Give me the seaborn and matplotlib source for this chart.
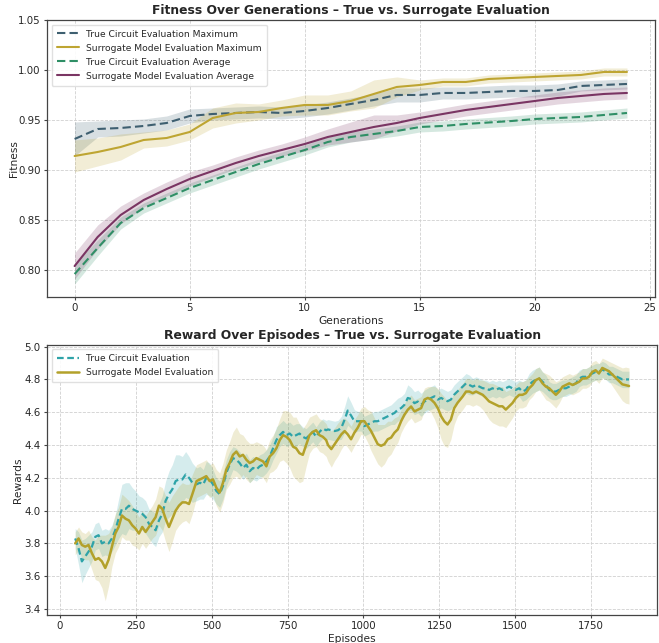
import numpy as np
import pandas as pd
import matplotlib
matplotlib.use("Agg")
import matplotlib.pyplot as plt
import seaborn as sns

# ---------------- Fitness over generations ----------------
generations = list(range(25))
true_max = [0.931, 0.941, 0.942, 0.944, 0.947, 0.954, 0.956, 0.957, 0.958, 0.957,
            0.959, 0.962, 0.966, 0.970, 0.975, 0.975, 0.977, 0.977, 0.978, 0.979,
            0.979, 0.980, 0.984, 0.985, 0.986]
true_max_hw = [0.017, 0.008, 0.008, 0.007, 0.007, 0.007, 0.006, 0.006, 0.006, 0.006,
               0.006, 0.006, 0.006, 0.006, 0.007, 0.007, 0.006, 0.006, 0.006, 0.006,
               0.006, 0.006, 0.005, 0.005, 0.005]
surr_max = [0.914, 0.918, 0.923, 0.930, 0.932, 0.938, 0.952, 0.957, 0.958, 0.962,
            0.965, 0.965, 0.969, 0.976, 0.983, 0.985, 0.988, 0.988, 0.991, 0.992,
            0.993, 0.994, 0.995, 0.998, 0.998]
surr_max_hw = [0.016, 0.014, 0.013, 0.008, 0.008, 0.008, 0.010, 0.010, 0.008, 0.008,
               0.010, 0.010, 0.010, 0.014, 0.010, 0.005, 0.004, 0.004, 0.004, 0.004,
               0.004, 0.004, 0.004, 0.004, 0.004]
true_avg = [0.796, 0.822, 0.847, 0.862, 0.872, 0.882, 0.890, 0.898, 0.906, 0.913,
            0.920, 0.928, 0.933, 0.936, 0.939, 0.943, 0.944, 0.946, 0.9475, 0.949,
            0.951, 0.952, 0.953, 0.955, 0.957]
true_avg_hw = [0.010, 0.008, 0.006, 0.005, 0.005, 0.005, 0.005, 0.005, 0.005, 0.005,
               0.005, 0.005, 0.005, 0.005, 0.005, 0.005, 0.005, 0.005, 0.005, 0.005,
               0.005, 0.005, 0.005, 0.005, 0.005]
surr_avg = [0.804, 0.833, 0.855, 0.870, 0.881, 0.891, 0.899, 0.907, 0.914, 0.920,
            0.926, 0.933, 0.938, 0.943, 0.947, 0.952, 0.956, 0.960, 0.963, 0.966,
            0.969, 0.972, 0.974, 0.976, 0.977]
surr_avg_hw = [0.013, 0.012, 0.009, 0.007, 0.007, 0.007, 0.006, 0.006, 0.006, 0.006,
               0.007, 0.008, 0.010, 0.012, 0.008, 0.006, 0.006, 0.006, 0.006, 0.006,
               0.006, 0.006, 0.006, 0.006, 0.006]

# ---------------- Reward over episodes ----------------
episodes = [50, 61, 72, 83, 94, 105, 116, 127, 138, 149, 160, 171, 182, 193, 204, 216,
            227, 238, 249, 260, 271, 282, 293, 304, 315, 326, 337, 348, 359, 370, 381,
            392, 403, 414, 425, 436,
            450, 461, 472, 482, 493, 504, 515, 526, 537, 548, 559, 570, 581, 592, 603,
            614, 625, 636, 647, 658, 669, 680, 691, 702, 713, 724, 735, 746, 757, 768,
            778, 789, 800, 811, 822, 833, 844, 855, 866, 877,
            883, 894, 905, 916, 927, 938, 948, 959, 970, 981, 992, 1003, 1014, 1025,
            1036, 1047, 1058, 1069, 1080, 1091, 1102, 1113, 1124, 1135, 1146, 1157,
            1168, 1179, 1190, 1201, 1212, 1223, 1234, 1245, 1256, 1266, 1277, 1288,
            1299, 1310,
            1327, 1338, 1349, 1360, 1371, 1382, 1393, 1404, 1414, 1425, 1436, 1447,
            1458, 1469, 1480, 1491, 1502, 1513, 1524, 1535, 1546, 1557, 1568, 1579,
            1590, 1601, 1612, 1623, 1634, 1645, 1656, 1667, 1678, 1689, 1700, 1711,
            1722, 1733, 1743, 1754, 1765, 1776,
            1787, 1798, 1809, 1820, 1831, 1842, 1853, 1864, 1875]
reward_true = [3.83, 3.77, 3.69, 3.72, 3.75, 3.78, 3.84, 3.85, 3.80, 3.81, 3.80, 3.83,
               3.88, 3.95, 4.01, 4.01, 4.03, 4.01, 4.00, 3.99, 3.98, 3.96, 3.92, 3.90,
               3.88, 3.94, 3.98, 4.06, 4.10, 4.13, 4.18, 4.19, 4.19, 4.22, 4.20, 4.17,
               4.16, 4.17, 4.16, 4.20, 4.19, 4.16, 4.12, 4.10, 4.15, 4.23, 4.28, 4.32,
               4.31, 4.29, 4.26, 4.28, 4.24, 4.26, 4.25, 4.27, 4.28, 4.30, 4.33, 4.38,
               4.43, 4.46, 4.48, 4.46, 4.47, 4.45, 4.46, 4.47, 4.45, 4.44, 4.46, 4.48,
               4.45, 4.48, 4.50, 4.49,
               4.495, 4.49, 4.485, 4.49, 4.505, 4.555, 4.61, 4.58, 4.545, 4.545, 4.545,
               4.515, 4.525, 4.535, 4.545, 4.545, 4.555, 4.565, 4.575, 4.585, 4.595,
               4.615, 4.625, 4.645, 4.687, 4.68, 4.655, 4.665, 4.645, 4.665, 4.677,
               4.687, 4.697, 4.677, 4.687, 4.677, 4.667, 4.677, 4.707, 4.727,
               4.756, 4.776, 4.766, 4.756, 4.766, 4.756, 4.746, 4.746, 4.736, 4.746,
               4.736, 4.746, 4.736, 4.746, 4.756, 4.746, 4.736, 4.746, 4.726, 4.736,
               4.766, 4.786, 4.796, 4.806, 4.786, 4.766, 4.736, 4.726, 4.726, 4.736,
               4.746, 4.746, 4.756, 4.766, 4.776, 4.806, 4.816, 4.816, 4.826, 4.836,
               4.846, 4.846,
               4.86, 4.85, 4.83, 4.83, 4.82, 4.81, 4.80, 4.80, 4.80]
reward_true_hw = [0.06, 0.10, 0.13, 0.11, 0.10, 0.09, 0.08, 0.08, 0.08, 0.08, 0.08, 0.08,
                  0.09, 0.12, 0.15, 0.16, 0.14, 0.13, 0.12, 0.10, 0.10, 0.10, 0.09, 0.10,
                  0.10, 0.10, 0.11, 0.12, 0.14, 0.15, 0.16, 0.15, 0.14, 0.14, 0.13, 0.12,
                  0.10, 0.10, 0.09, 0.10, 0.10, 0.09, 0.08, 0.08, 0.08, 0.08, 0.08, 0.07,
                  0.07, 0.07, 0.07, 0.07, 0.07, 0.07, 0.07, 0.07, 0.07, 0.07, 0.07, 0.07,
                  0.08, 0.07, 0.07, 0.07, 0.07, 0.07, 0.07, 0.06, 0.06, 0.06, 0.06, 0.06,
                  0.06, 0.06, 0.06, 0.06,
                  0.06, 0.06, 0.06, 0.06, 0.07, 0.08, 0.09, 0.08, 0.07, 0.06, 0.06,
                  0.06, 0.06, 0.06, 0.06, 0.06, 0.06, 0.06, 0.06, 0.06, 0.07,
                  0.07, 0.07, 0.07, 0.08, 0.07, 0.07, 0.07, 0.07, 0.07, 0.07,
                  0.07, 0.07, 0.06, 0.06, 0.06, 0.06, 0.06, 0.06, 0.06,
                  0.06, 0.06, 0.06, 0.05, 0.05, 0.05, 0.05, 0.05, 0.05, 0.05,
                  0.05, 0.05, 0.05, 0.05, 0.05, 0.05, 0.05, 0.05, 0.06, 0.06,
                  0.07, 0.07, 0.07, 0.07, 0.06, 0.06, 0.05, 0.05, 0.05, 0.05,
                  0.05, 0.05, 0.05, 0.05, 0.05, 0.05, 0.05, 0.05, 0.05, 0.05,
                  0.05, 0.05,
                  0.05, 0.05, 0.05, 0.05, 0.05, 0.05, 0.05, 0.05, 0.05]
reward_surr = [3.80, 3.83, 3.79, 3.78, 3.79, 3.74, 3.70, 3.71, 3.69, 3.65, 3.70, 3.78,
               3.86, 3.90, 3.97, 3.95, 3.94, 3.91, 3.89, 3.86, 3.90, 3.87, 3.90, 3.93,
               3.96, 4.03, 4.01, 3.95, 3.90, 3.95, 4.00, 4.03, 4.05, 4.05, 4.04, 4.10,
               4.18, 4.19, 4.20, 4.21, 4.18, 4.19, 4.14, 4.11, 4.17, 4.25, 4.29, 4.34,
               4.36, 4.33, 4.34, 4.31, 4.29, 4.30, 4.32, 4.31, 4.30, 4.27, 4.33, 4.35,
               4.38, 4.43, 4.46, 4.45, 4.43, 4.39, 4.38, 4.35, 4.34, 4.40, 4.46, 4.48,
               4.49, 4.46, 4.45, 4.43,
               4.40, 4.375, 4.405, 4.435, 4.465, 4.485, 4.465, 4.435, 4.475, 4.505,
               4.545, 4.545, 4.515, 4.485, 4.445, 4.405, 4.395, 4.405, 4.435, 4.445,
               4.475, 4.495, 4.545, 4.585, 4.615, 4.635, 4.605, 4.615, 4.625, 4.677,
               4.687, 4.677, 4.657, 4.625, 4.575, 4.545, 4.525, 4.555, 4.625, 4.657,
               4.696, 4.726, 4.726, 4.716, 4.726, 4.716, 4.706, 4.686, 4.666, 4.656,
               4.646, 4.636, 4.636, 4.616, 4.636, 4.656, 4.686, 4.706, 4.706, 4.716,
               4.746, 4.766, 4.796, 4.806, 4.776, 4.756, 4.746, 4.726, 4.706, 4.726,
               4.756, 4.766, 4.776, 4.766, 4.776, 4.786, 4.806, 4.806, 4.816, 4.846,
               4.856, 4.836,
               4.87, 4.86, 4.85, 4.83, 4.81, 4.79, 4.77, 4.765, 4.76]
reward_surr_hw = [0.07, 0.07, 0.08, 0.08, 0.09, 0.10, 0.12, 0.14, 0.16, 0.20, 0.16, 0.12,
                  0.12, 0.12, 0.13, 0.13, 0.12, 0.12, 0.11, 0.10, 0.10, 0.10, 0.10, 0.10,
                  0.11, 0.12, 0.13, 0.14, 0.15, 0.14, 0.12, 0.12, 0.12, 0.11, 0.12, 0.12,
                  0.10, 0.10, 0.10, 0.10, 0.10, 0.10, 0.11, 0.12, 0.12, 0.12, 0.13, 0.14,
                  0.15, 0.14, 0.12, 0.12, 0.12, 0.11, 0.10, 0.10, 0.10, 0.10, 0.10, 0.11,
                  0.12, 0.13, 0.15, 0.16, 0.17, 0.18, 0.19, 0.18, 0.16, 0.13, 0.11, 0.10,
                  0.10, 0.10, 0.10, 0.10,
                  0.10, 0.11, 0.10, 0.10, 0.09, 0.08, 0.08, 0.08, 0.08, 0.08,
                  0.08, 0.09, 0.10, 0.12, 0.12, 0.12, 0.13, 0.12, 0.11, 0.10,
                  0.09, 0.08, 0.07, 0.07, 0.07, 0.07, 0.07, 0.07, 0.07, 0.07,
                  0.07, 0.08, 0.10, 0.12, 0.14, 0.15, 0.14, 0.12, 0.10, 0.08,
                  0.08, 0.08, 0.08, 0.08, 0.08, 0.08, 0.09, 0.10, 0.11, 0.12,
                  0.12, 0.12, 0.12, 0.11, 0.10, 0.09, 0.08, 0.08, 0.08, 0.08,
                  0.07, 0.07, 0.07, 0.07, 0.07, 0.08, 0.08, 0.08, 0.08, 0.07,
                  0.06, 0.06, 0.06, 0.06, 0.06, 0.06, 0.06, 0.06, 0.06, 0.06,
                  0.06, 0.06,
                  0.06, 0.06, 0.06, 0.07, 0.08, 0.09, 0.10, 0.11, 0.11]

# ---------------- Styling ----------------
sns.set_theme(style="white")
plt.rcParams["font.family"] = ["DejaVu Sans"]
plt.rcParams["axes.edgecolor"] = "#444444"
plt.rcParams["axes.linewidth"] = 0.9

C_TRUE_MAX = "#3e5f70"
C_SURR_MAX = "#bea532"
C_TRUE_AVG = "#2f8f66"
C_SURR_AVG = "#7a3563"
C_TRUE_RW = "#2ea3a8"
C_SURR_RW = "#b3a12a"

fig = plt.figure(figsize=(6.59, 6.43), dpi=100)
ax1 = fig.add_axes([0.0713, 0.538, 0.922, 0.431])
ax2 = fig.add_axes([0.0713, 0.0435, 0.926, 0.4205])

gen_df = pd.DataFrame({
    "Generations": generations,
    "true_max": true_max, "surr_max": surr_max,
    "true_avg": true_avg, "surr_avg": surr_avg,
})
g = np.array(generations)

series_top = [
    ("true_max", true_max, true_max_hw, C_TRUE_MAX, (4, 2), "True Circuit Evaluation Maximum"),
    ("surr_max", surr_max, surr_max_hw, C_SURR_MAX, None, "Surrogate Model Evaluation Maximum"),
    ("true_avg", true_avg, true_avg_hw, C_TRUE_AVG, (4, 2), "True Circuit Evaluation Average"),
    ("surr_avg", surr_avg, surr_avg_hw, C_SURR_AVG, None, "Surrogate Model Evaluation Average"),
]
for col, vals, hw, color, dash, label in series_top:
    v = np.array(vals)
    h = np.array(hw)
    ax1.fill_between(g, v - h, v + h, color=color, alpha=0.2, linewidth=0)
    sns.lineplot(data=gen_df, x="Generations", y=col, ax=ax1, color=color,
                 linewidth=1.5, label=label)
    if dash is not None:
        ax1.lines[-1].set_dashes(dash)

ax1.set_xlim(-1.2, 25.2)
ax1.set_ylim(0.773, 1.05)
ax1.set_xticks([0, 5, 10, 15, 20, 25])
ax1.set_yticks([0.80, 0.85, 0.90, 0.95, 1.00, 1.05])
ax1.set_yticklabels(["0.80", "0.85", "0.90", "0.95", "1.00", "1.05"])
ax1.set_xlabel("Generations", fontsize=7.7, labelpad=2)
ax1.set_ylabel("Fitness", fontsize=7.7)
ax1.yaxis.set_label_coords(-0.046, 0.5)
ax1.set_title("Fitness Over Generations \u2013 True vs. Surrogate Evaluation",
              fontsize=8.9, fontweight="bold", pad=4)
ax1.legend(loc="upper left", fontsize=6.6, frameon=True, framealpha=0.9,
           edgecolor="#dddddd", handlelength=2.4, borderpad=0.55, labelspacing=0.55)

rw_df = pd.DataFrame({"Episodes": episodes, "true": reward_true, "surr": reward_surr})
e = np.array(episodes)
series_bot = [
    ("true", reward_true, reward_true_hw, C_TRUE_RW, (3, 1.6), "True Circuit Evaluation", 1.6),
    ("surr", reward_surr, reward_surr_hw, C_SURR_RW, None, "Surrogate Model Evaluation", 1.8),
]
for col, vals, hw, color, dash, label, lw in series_bot:
    v = np.array(vals)
    h = np.array(hw)
    ax2.fill_between(e, v - h, v + h, color=color, alpha=0.2, linewidth=0)
    sns.lineplot(data=rw_df, x="Episodes", y=col, ax=ax2, color=color,
                 linewidth=lw, label=label)
    if dash is not None:
        ax2.lines[-1].set_dashes(dash)

ax2.set_xlim(-43, 1968)
ax2.set_ylim(3.363, 5.012)
ax2.set_xticks([0, 250, 500, 750, 1000, 1250, 1500, 1750])
ax2.set_yticks([3.4, 3.6, 3.8, 4.0, 4.2, 4.4, 4.6, 4.8, 5.0])
ax2.set_xlabel("Episodes", fontsize=7.7, labelpad=2)
ax2.set_ylabel("Rewards", fontsize=7.7)
ax2.yaxis.set_label_coords(-0.039, 0.5)
ax2.set_title("Reward Over Episodes \u2013 True vs. Surrogate Evaluation",
              fontsize=8.9, fontweight="bold", pad=4)
ax2.legend(loc="upper left", fontsize=6.6, frameon=True, framealpha=0.9,
           edgecolor="#dddddd", handlelength=2.4, borderpad=0.55, labelspacing=0.55)

for ax in (ax1, ax2):
    ax.grid(True, linestyle="--", linewidth=0.6, color="#d0d0d0")
    ax.set_axisbelow(True)
    ax.tick_params(axis="both", labelsize=7.4, length=2.5, width=0.8,
                   color="#444444", pad=2, bottom=True, left=True)
    for s in ax.spines.values():
        s.set_visible(True)
        s.set_color("#444444")

fig.savefig("out.png", dpi=100)
